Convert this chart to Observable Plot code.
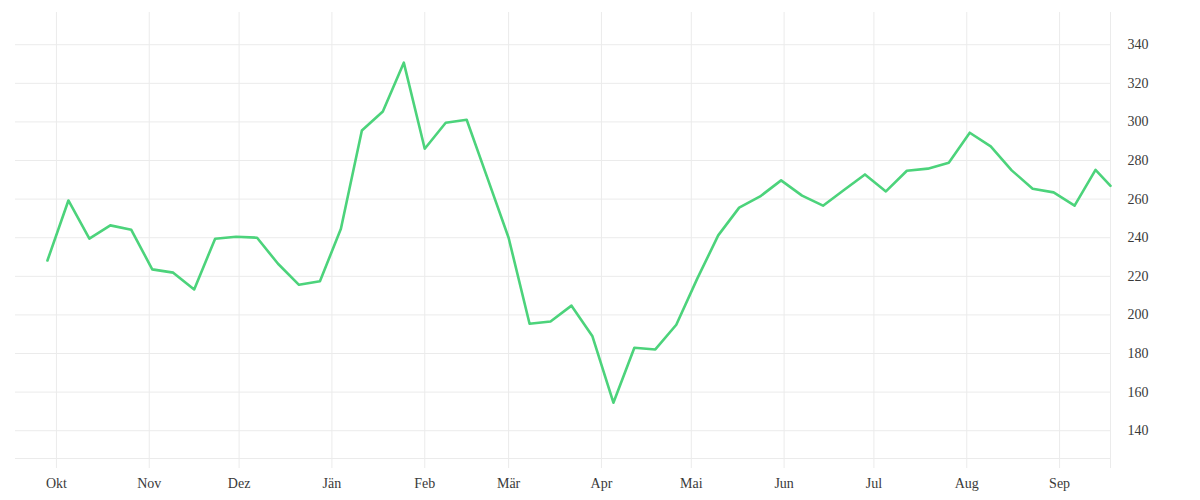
<!DOCTYPE html>
<html>
<head>
<meta charset="utf-8">
<script src="https://cdn.jsdelivr.net/npm/d3@7"></script>
<script src="https://cdn.jsdelivr.net/npm/@observablehq/plot@0.6"></script>
<style>
  html, body { margin: 0; padding: 0; background: #fff; }
  #chart svg { display: block; }
</style>
</head>
<body>
<div id="chart"></div>
<script>
// Weekly values, first week starting 2022-09-28
const startDate = "2022-09-28";
const values = [
  228.2, 259.3, 239.5, 246.4, 244.1, 223.6, 221.9, 213.2, 239.5, 240.5,
  240.0, 226.5, 215.6, 217.4, 244.7, 295.6, 305.4, 330.7, 286.1, 299.6,
  301.1, 270.6, 240.0, 195.4, 196.6, 204.8, 188.9, 154.5, 183.0, 182.1,
  194.9, 218.8, 241.2, 255.6, 261.4, 269.7, 261.8, 256.6, 264.7, 272.8,
  264.0, 274.7, 275.8, 278.9, 294.4, 287.3, 274.9, 265.4, 263.5, 256.6,
  275.2
];
const lastDate = "2023-09-18";
const lastValue = 266.9;
const monthLabels = ["Jän","Feb","Mär","Apr","Mai","Jun","Jul","Aug","Sep","Okt","Nov","Dez"];
const yTicks = [140, 160, 180, 200, 220, 240, 260, 280, 300, 320, 340];
const yDomain = [125.6, 356.7];

const start = new Date(startDate + "T00:00:00Z");
const data = values.map((v, i) => ({date: new Date(start.getTime() + i * 7 * 864e5), value: v}));
data.push({date: new Date(lastDate + "T00:00:00Z"), value: lastValue});

const xEnd = new Date(lastDate + "T00:00:00Z");
const xStart = new Date(Date.UTC(xEnd.getUTCFullYear() - 1, xEnd.getUTCMonth(), xEnd.getUTCDate()));
const monthTicks = d3.utcMonths(xStart, xEnd);

const grid = "#ebebeb";

const chart = Plot.plot({
  width: 1200,
  height: 500,
  marginTop: 12,
  marginBottom: 42,
  marginLeft: 17,
  marginRight: 90,
  style: {fontFamily: "'Liberation Serif', serif", fontSize: "14px", color: "#3a3a3a", background: "#fff"},
  x: {type: "utc", domain: [xStart, xEnd], label: null},
  y: {domain: yDomain, label: null},
  marks: [
    Plot.ruleY(yTicks, {stroke: grid, strokeWidth: 1, insetLeft: -2}),
    Plot.ruleY([yDomain[0]], {stroke: grid, strokeWidth: 1, insetLeft: -2}),
    Plot.ruleX(monthTicks, {stroke: grid, strokeWidth: 1, insetBottom: -10}),
    Plot.ruleX([xEnd], {stroke: grid, strokeWidth: 1, insetBottom: -10}),
    Plot.axisX({
      ticks: monthTicks,
      tickSize: 0,
      tickPadding: 20,
      tickFormat: d => monthLabels[d.getUTCMonth()],
      fill: "#3a3a3a",
      label: null
    }),
    Plot.axisY({
      anchor: "right",
      ticks: yTicks,
      tickSize: 0,
      tickPadding: 17,
      fill: "#3a3a3a",
      label: null
    }),
    Plot.line(data, {x: "date", y: "value", stroke: "#4cd37b", strokeWidth: 2.6, curve: "linear"})
  ]
});
document.getElementById("chart").appendChild(chart);
</script>
</body>
</html>
